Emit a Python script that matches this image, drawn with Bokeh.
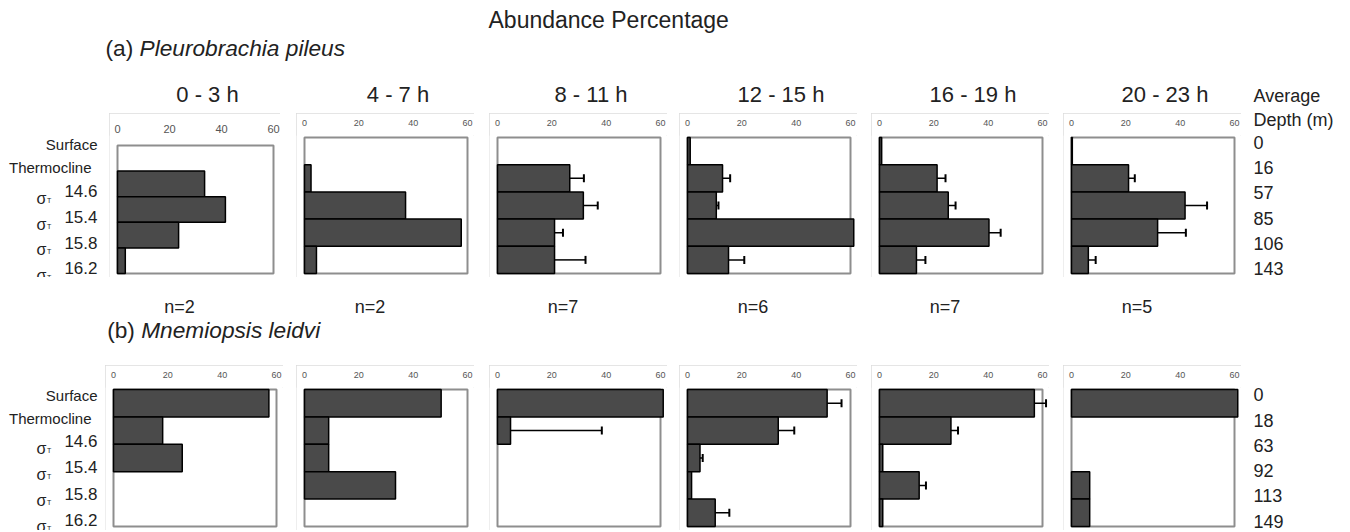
from bokeh.plotting import figure
from bokeh.layouts import row, column
from bokeh.models import Range1d, FixedTicker, ColumnDataSource, Spacer
from bokeh.embed import file_html
from bokeh.resources import INLINE
from bokeh.core.properties import value

# ---------------------------------------------------------------- data
HOURS = ["0 - 3 h", "4 - 7 h", "8 - 11 h", "12 - 15 h", "16 - 19 h", "20 - 23 h"]
BOUNDARIES = ["Surface", "Thermocline"]
SIGMA_LEVELS = ["14.6", "15.4", "15.8", "16.2"]
X_TICKS = [0, 20, 40, 60]
X_MAX = 60

N_SAMPLES_A = [2, 2, 7, 6, 7, 5]
DEPTH_A = [0, 16, 57, 85, 106, 143]
DEPTH_B = [0, 18, 63, 92, 113, 149]

# abundance (%) per layer: surface-thermocline, thermocline-14.6, 14.6-15.4, 15.4-15.8, 15.8-16.2
A_0_3 = [0.0, 33.5, 41.5, 23.5, 3.0]
A_4_7 = [0.0, 2.4, 37.2, 57.7, 4.4]
A_8_11 = [0.0, 26.6, 31.6, 21.0, 21.0]
A_12_15 = [1.0, 12.9, 10.6, 61.2, 15.1]
A_16_19 = [0.8, 21.2, 25.3, 40.3, 13.6]
A_20_23 = [0.3, 21.0, 41.8, 31.7, 6.2]

A_ERR_0_3 = [0, 0, 0, 0, 0]
A_ERR_4_7 = [0, 0, 0, 0, 0]
A_ERR_8_11 = [0, 5.2, 5.3, 3.1, 11.4]
A_ERR_12_15 = [0, 2.8, 0.8, 0, 5.8]
A_ERR_16_19 = [0, 3.1, 2.7, 4.3, 3.3]
A_ERR_20_23 = [0, 2.3, 8.1, 10.4, 2.7]

B_0_3 = [57.2, 18.1, 25.3, 0.0, 0.0]
B_4_7 = [50.3, 8.9, 8.9, 33.5, 0.0]
B_8_11 = [61.0, 4.8, 0.0, 0.0, 0.0]
B_12_15 = [51.4, 33.4, 4.6, 1.5, 10.2]
B_16_19 = [57.0, 26.3, 1.2, 14.6, 1.2]
B_20_23 = [61.2, 0.0, 0.0, 6.7, 6.7]

B_ERR_0_3 = [0, 0, 0, 0, 0]
B_ERR_4_7 = [0, 0, 0, 0, 0]
B_ERR_8_11 = [0, 33.6, 0, 0, 0]
B_ERR_12_15 = [5.3, 5.9, 1.0, 0, 5.2]
B_ERR_16_19 = [4.3, 2.6, 0, 2.5, 0]
B_ERR_20_23 = [0, 0, 0, 0, 0]

A_VALUES = [A_0_3, A_4_7, A_8_11, A_12_15, A_16_19, A_20_23]
A_ERRORS = [A_ERR_0_3, A_ERR_4_7, A_ERR_8_11, A_ERR_12_15, A_ERR_16_19, A_ERR_20_23]
B_VALUES = [B_0_3, B_4_7, B_8_11, B_12_15, B_16_19, B_20_23]
B_ERRORS = [B_ERR_0_3, B_ERR_4_7, B_ERR_8_11, B_ERR_12_15, B_ERR_16_19, B_ERR_20_23]

# ---------------------------------------------------------------- layout
FONT = value("Liberation Sans")
TEXT = "#222222"
BAR_FILL = "#4a4a4a"
FRAME = "#8e8e8e"
BOX = "#dcdcdc"

MID_W = 1241
PAGE_H = 532
ROW_A = (113, 277)
ROW_B = (365, 530)
AXIS_BAND = 22          # space above every panel frame for the tick labels
PANEL_LEFTS = [117, 304, 497, 687, 879, 1071]
PANEL_W = 163
PAD_L, PAD_R = 8, 7

# (inner left, inner width, inner top, inner bottom, tick font px, tick standoff)
GEOM_A = [(117, 156, 145, 273, 11, 3)] + [(x, PANEL_W, 137, 273, 9, 10) for x in PANEL_LEFTS[1:]]
GEOM_B = [(113, PANEL_W, 389, 526, 9, 10)] + [(x, PANEL_W, 389, 526, 9, 10) for x in PANEL_LEFTS[1:]]


def canvas(x0, x1, y0, y1, border_top=0):
    p = figure(width=x1 - x0, height=y1 - y0,
               x_range=Range1d(x0, x1), y_range=Range1d(y1, y0 + border_top),
               x_axis_location=None, y_axis_location=None,
               min_border=0, min_border_top=border_top,
               toolbar_location=None, output_backend="svg",
               outline_line_color=None, border_fill_color="white",
               background_fill_color="white")
    p.grid.visible = False
    return p


def write(p, x, y, text, size, align="left", style="normal", color=TEXT):
    p.text(x=x, y=y, text=text, text_font=FONT, text_font_size=size,
           text_align=align, text_baseline="middle", text_font_style=style,
           text_color=color)


def panel(values, errors, geom, row_span):
    left, w, top, bottom, tick_px, standoff = geom
    row_top, row_bottom = row_span
    n = len(values)
    frame_top = row_top + AXIS_BAND
    pad_t = top - frame_top
    pad_b = row_bottom - bottom
    ux = X_MAX / w
    uy = n / (bottom - top)
    p = figure(width=w + PAD_L + PAD_R, height=row_bottom - row_top,
               x_range=Range1d(-PAD_L * ux, X_MAX + PAD_R * ux),
               y_range=Range1d(n + pad_b * uy, -pad_t * uy),
               x_axis_location="above", y_axis_location=None,
               min_border_left=0, min_border_right=0, min_border_bottom=0,
               min_border_top=AXIS_BAND,
               toolbar_location=None, output_backend="svg",
               outline_line_color=None, border_fill_color="white",
               background_fill_color="white")
    p.styles = {"outline": f"1px solid {BOX}", "outline-offset": "-1px"}
    p.grid.visible = False

    ax = p.xaxis[0]
    ax.ticker = FixedTicker(ticks=X_TICKS)
    ax.axis_line_color = None
    ax.major_tick_line_color = None
    ax.minor_tick_line_color = None
    ax.major_tick_in = 0
    ax.major_tick_out = 0
    ax.major_label_standoff = standoff
    ax.major_label_text_font = "Liberation Sans"
    ax.major_label_text_font_size = f"{tick_px}px"
    ax.major_label_text_color = "#555555"

    # plotting box 0..X_MAX across, one band per layer
    p.quad(left=0, right=X_MAX, top=0, bottom=n, fill_color="white",
           line_color=FRAME, line_width=2)

    ys = [i + 0.5 for i in range(n) if values[i] > 0]
    vs = [v for v in values if v > 0]
    p.hbar(source=ColumnDataSource(dict(y=ys, right=vs)), y="y", left=0,
           right="right", height=1.0, fill_color=BAR_FILL,
           line_color="black", line_width=1.5)

    ey = [i + 0.5 for i in range(n) if errors[i] > 0]
    e0 = [values[i] for i in range(n) if errors[i] > 0]
    e1 = [values[i] + errors[i] for i in range(n) if errors[i] > 0]
    cap = 4 * uy
    src = ColumnDataSource(dict(y=ey, x0=e0, x1=e1,
                                c0=[y - cap for y in ey], c1=[y + cap for y in ey]))
    p.segment(x0="x0", y0="y", x1="x1", y1="y", source=src,
              line_color="black", line_width=1.5)
    p.segment(x0="x1", y0="c0", x1="x1", y1="c1", source=src,
              line_color="black", line_width=2)
    return p


def row_labels(width, row_span, surface_y, thermo_y, sigma_y, sigma_step):
    p = canvas(0, width, row_span[0], row_span[1], border_top=AXIS_BAND)
    write(p, [97], [surface_y], [BOUNDARIES[0]], "15px", align="right")
    write(p, [91], [thermo_y], [BOUNDARIES[1]], "15px", align="right")
    ys = [sigma_y + sigma_step * i for i in range(len(SIGMA_LEVELS))]
    write(p, [97] * len(ys), ys, SIGMA_LEVELS, "17px", align="right")
    write(p, [36] * len(ys), [y + 7 for y in ys], ["σ"] * len(ys), "16px")
    write(p, [46.5] * len(ys), [y + 9 for y in ys], ["T"] * len(ys), "7px")
    return p


def panel_row(values_list, errors_list, geoms, row_span, label_fig):
    items = [label_fig]
    prev_right = geoms[0][0] - PAD_L
    for vals, errs, g in zip(values_list, errors_list, geoms):
        fig_left = g[0] - PAD_L
        if fig_left > prev_right:
            items.append(Spacer(width=fig_left - prev_right, height=row_span[1] - row_span[0]))
        items.append(panel(vals, errs, g, row_span))
        prev_right = g[0] + g[1] + PAD_R
    return row(*items)


# heading strip
top = canvas(0, MID_W, 0, ROW_A[0])
write(top, [488], [19], ["Abundance Percentage"], "23px")
write(top, [105], [47.5], ["(a) "], "22.7px")
write(top, [139], [47.5], ["Pleurobrachia pileus"], "22.7px", style="italic")
centers = [g[0] + g[1] / 2 for g in GEOM_A]
write(top, [c + 12 for c in centers], [94] * len(HOURS), HOURS, "22px", align="center")

# species (a)
left_a = row_labels(GEOM_A[0][0] - PAD_L, ROW_A, 143.8, 166.7, 190.8, 25.7)
row_a = panel_row(A_VALUES, A_ERRORS, GEOM_A, ROW_A, left_a)

# sample counts and species (b) heading
mid = canvas(0, MID_W, ROW_A[1], ROW_B[0])
write(mid, [c - 16 for c in centers], [306.7] * len(N_SAMPLES_A),
      [f"n={k}" for k in N_SAMPLES_A], "18px", align="center")
write(mid, [106.7], [329.5], ["(b) "], "22.7px")
write(mid, [140.7], [329.5], ["Mnemiopsis leidvi"], "22.7px", style="italic")

# species (b)
left_b = row_labels(GEOM_B[0][0] - PAD_L, ROW_B, 394.7, 417.7, 440.8, 26.1)
row_b = panel_row(B_VALUES, B_ERRORS, GEOM_B, ROW_B, left_b)

# average depth column
right = canvas(MID_W, 1350, 0, PAGE_H)
write(right, [1253], [95], ["Average"], "18px")
write(right, [1253], [119], ["Depth (m)"], "18px")
write(right, [1253] * len(DEPTH_A), [141.7 + 25.3 * i for i in range(len(DEPTH_A))],
      [str(d) for d in DEPTH_A], "18px")
write(right, [1253] * len(DEPTH_B), [394.2 + 25.3 * i for i in range(len(DEPTH_B))],
      [str(d) for d in DEPTH_B], "18px")

layout = row(column(top, row_a, mid, row_b), right)

open("out.html", "w").write(file_html(layout, INLINE))
